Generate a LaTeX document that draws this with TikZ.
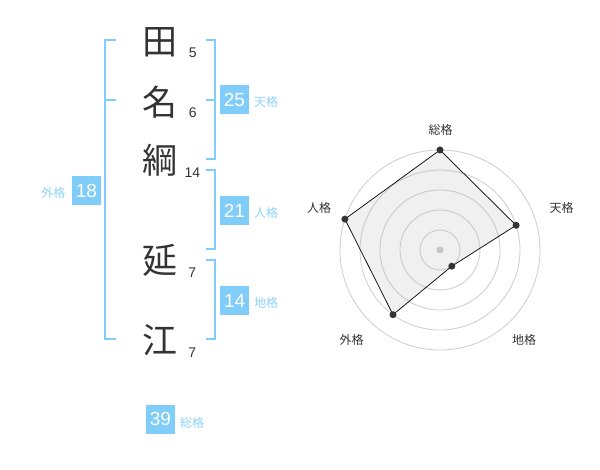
\documentclass[tikz,border=0pt]{standalone}
\usepackage{fontspec}
\setmainfont{Liberation Sans}
\newfontfamily\jp{Noto Sans CJK JP}
\definecolor{kblue}{HTML}{80CDFA}
\definecolor{klab}{HTML}{8CD2F8}
\definecolor{ink}{HTML}{333333}
\begin{document}
\begin{tikzpicture}[x=1pt,y=-1pt,
  kanji/.style={font=\jp\fontsize{35}{35}\selectfont, text=ink, inner sep=0pt},
  strokes/.style={font=\fontsize{14}{14}\selectfont, text=ink, inner sep=0pt},
  gbox/.style={fill=kblue, text=white, minimum size=29pt, inner sep=0pt, font=\fontsize{19}{19}\selectfont},
  glab/.style={text=klab, font=\jp\fontsize{12}{12}\selectfont, inner sep=0pt},
  brk/.style={draw=kblue, line width=2pt},
  ring/.style={draw=black!20, line width=0.8pt},
  rlab/.style={text=ink, font=\jp\fontsize{12}{12}\selectfont, inner sep=0pt},
  rdot/.style={circle, fill=ink, inner sep=0pt, minimum size=7pt}]
\useasboundingbox (0,0) rectangle (600,470);
% kanji and stroke counts
\node[kanji] (k1) at (160,42) {田};
\node[kanji] (k2) at (160,102) {名};
\node[kanji] (k3) at (160,160) {綱};
\node[kanji] (k4) at (160,260) {延};
\node[kanji] (k5) at (160,340) {江};
\node[strokes] (s1) at (192.7,52.3) {5};
\node[strokes] (s2) at (192.7,112.7) {6};
\node[strokes] (s3) at (192.3,172.7) {14};
\node[strokes] (s4) at (192.3,272.7) {7};
\node[strokes] (s5) at (192.3,352.3) {7};
% brackets
\draw[brk] (116,40) -- (105,40) -- (105,339.5) -- (116,339.5);
\draw[brk] (105,100) -- (116,100);
\draw[brk] (206,40) -- (215,40) -- (215,159.5) -- (206,159.5);
\draw[brk] (206,100) -- (215,100);
\draw[brk] (206,170) -- (215,170) -- (215,249.5) -- (206,249.5);
\draw[brk] (206,260) -- (215,260) -- (215,339.5) -- (206,339.5);
% grade boxes and labels
\node[gbox] (b25) at (234.5,100) {25};
\node[glab] (l25) at (266,101.7) {天格};
\node[gbox] (b21) at (234.5,210.5) {21};
\node[glab] (l21) at (266,213) {人格};
\node[gbox] (b14) at (234.7,300.5) {14};
\node[glab] (l14) at (266,303) {地格};
\node[gbox] (b18) at (86.5,190.5) {18};
\node[glab] (l18) at (53.3,193.3) {外格};
\node[gbox] (b39) at (160.5,419) {39};
\node[glab] (l39) at (192,422.7) {総格};
% radar chart
\coordinate (C) at (440,250);
\foreach \r in {20,40,60,80,100} \draw[ring] (C) circle[radius=\r];
\fill[black!20] (C) circle[radius=3.5];
\coordinate (p1) at (440,150);
\coordinate (p2) at (516.1,225.3);
\coordinate (p3) at (451.8,266.2);
\coordinate (p4) at (393,314.7);
\coordinate (p5) at (344.9,219.1);
\filldraw[fill=black!30, fill opacity=0.2, draw=black, line width=0.7pt] (p1) -- (p2) -- (p3) -- (p4) -- (p5) -- cycle;
\foreach \p in {p1,p2,p3,p4,p5} \node[rdot] at (\p) {};
\node[rlab] (r1) at (440.7,130) {総格};
\node[rlab] (r2) at (561.7,208.3) {天格};
\node[rlab] (r3) at (524,340) {地格};
\node[rlab] (r4) at (351.7,340) {外格};
\node[rlab] (r5) at (319,208) {人格};
\end{tikzpicture}
\end{document}
